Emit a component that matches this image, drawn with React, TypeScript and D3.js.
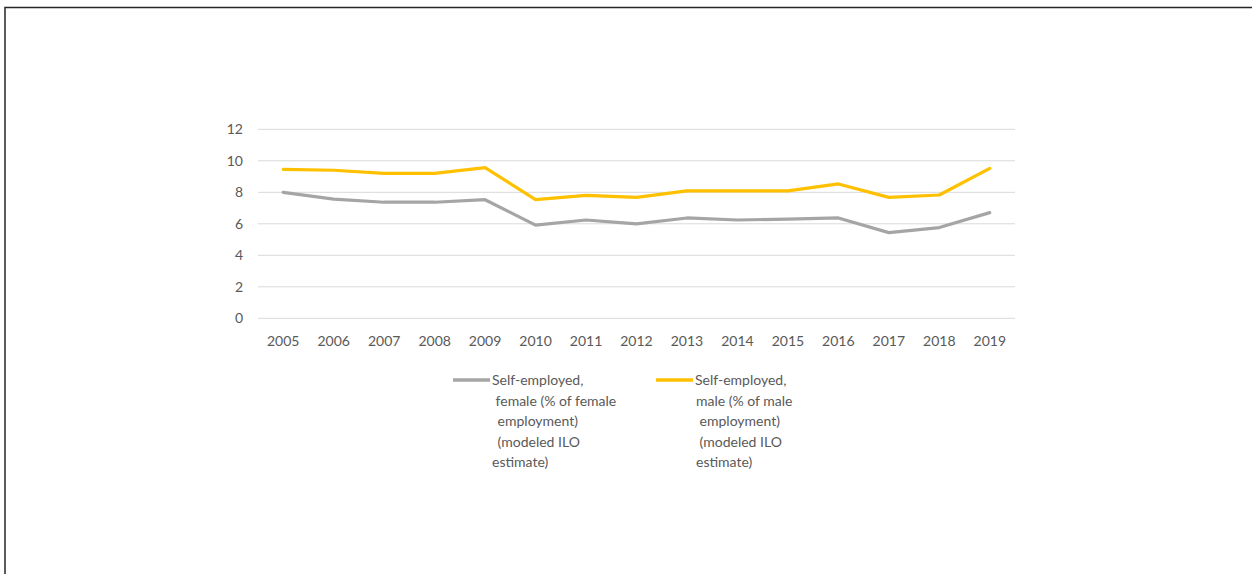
import React from "react";
import * as d3 from "d3";

const years = ["2005","2006","2007","2008","2009","2010","2011","2012","2013","2014","2015","2016","2017","2018","2019"];
const femaleValues = [8.0, 7.57, 7.37, 7.37, 7.53, 5.92, 6.24, 5.99, 6.37, 6.24, 6.3, 6.37, 5.44, 5.76, 6.71];
const maleValues = [9.46, 9.4, 9.2, 9.2, 9.57, 7.53, 7.8, 7.68, 8.09, 8.09, 8.09, 8.53, 7.68, 7.83, 9.52];
const yTicks = [0, 2, 4, 6, 8, 10, 12];
const femaleLegend = ["Self-employed,", " female (% of female", " employment)", " (modeled ILO", "estimate)"];
const maleLegend = ["Self-employed,", "male (% of male", " employment)", " (modeled ILO", "estimate)"];

const W = 1252, H = 574;
const left = 258, right = 1015, top = 129.3, bottom = 318.3;
const FONT = "Lato, 'Open Sans', sans-serif";
const TEXT = "#595959";

export default function App() {
  const x = d3.scaleBand<string>().domain(years).range([left, right]);
  const y = d3.scaleLinear().domain([0, 12]).range([bottom, top]);
  const line = d3.line<number>()
    .x((_, i) => (x(years[i]) as number) + x.bandwidth() / 2)
    .y((d) => y(d));

  const legendItem = (lx: number, color: string, lines: string[], offs: number[]) => (
    <g>
      <line x1={lx} x2={lx + 37} y1={380} y2={380} stroke={color} strokeWidth={3.5} />
      {lines.map((t, i) => (
        <text key={i} x={lx + 39 + offs[i]} y={385 + i * 20.6} fontSize={14} fill={TEXT} fontFamily={FONT} style={{ whiteSpace: "pre" }}>{t}</text>
      ))}
    </g>
  );

  return (
    <div style={{ position: "absolute", left: 0, top: 0 }}>
      <svg width={W} height={H} style={{ display: "block" }}>
        <rect x={0} y={0} width={W} height={H} fill="#fff" />
        <path d={`M5,${H + 5} V7.5 H${W + 5}`} fill="none" stroke="#262626" strokeWidth={1.5} />
        {yTicks.map((t) => (
          <g key={t}>
            <line x1={left} x2={right} y1={y(t)} y2={y(t)} stroke="#d9d9d9" strokeWidth={1} />
            <text x={243} y={y(t) + 5} textAnchor="end" fontSize={14} fill={TEXT} fontFamily={FONT}>{t}</text>
          </g>
        ))}
        {years.map((yr) => (
          <text key={yr} x={(x(yr) as number) + x.bandwidth() / 2} y={346} textAnchor="middle" fontSize={14} fill={TEXT} fontFamily={FONT}>{yr}</text>
        ))}
        <path d={line(femaleValues) || ""} fill="none" stroke="#a5a5a5" strokeWidth={3.2} strokeLinejoin="round" strokeLinecap="round" />
        <path d={line(maleValues) || ""} fill="none" stroke="#ffc000" strokeWidth={3.2} strokeLinejoin="round" strokeLinecap="round" />
        {legendItem(453, "#a5a5a5", femaleLegend, [0, 0, 2, 2, 0])}
        {legendItem(656, "#ffc000", maleLegend, [0, 1, 1, 1, 1])}
      </svg>
    </div>
  );
}
